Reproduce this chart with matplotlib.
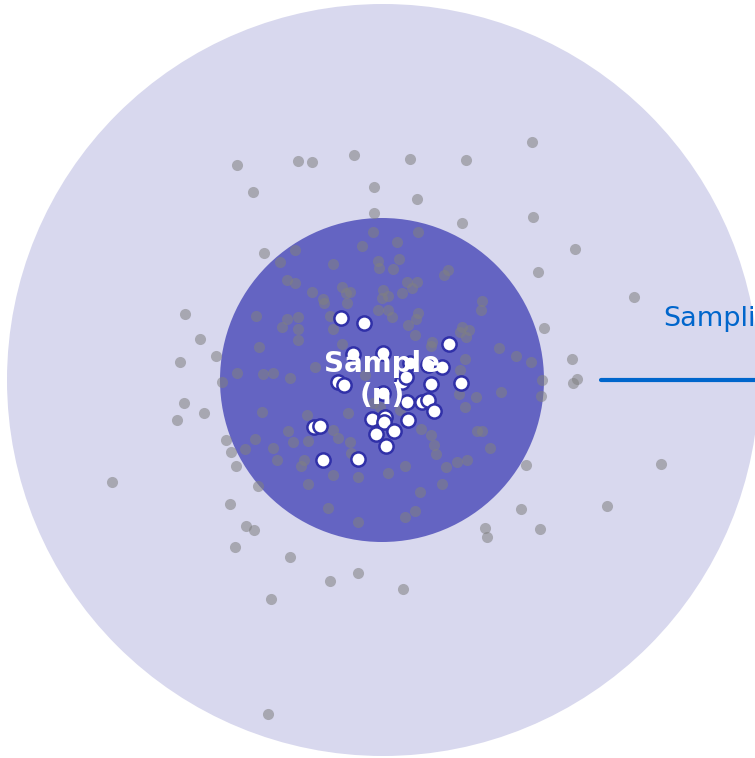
import matplotlib
matplotlib.use("Agg")
import matplotlib.pyplot as plt
from matplotlib.patches import Circle

# pixel-space coordinates (y grows downward)
population_center = (383, 380)
population_radius = 376
sample_center = (382, 380)
sample_radius = 162

gray_x = [237, 253, 298, 312, 354, 410, 466, 532, 374, 417, 374, 462, 533, 575, 538,
          634, 264, 280, 295, 287, 295, 544, 185, 200, 180, 216, 222, 184, 177, 204,
          112, 226, 231, 236, 258, 230, 246, 254, 235, 290, 271, 268, 330, 358, 403,
          485, 487, 540, 521, 607, 661, 526, 572, 577, 573, 541, 542, 531, 516, 499,
          501, 490, 373, 418, 362, 397, 333, 378, 379, 393, 399, 448, 444, 342, 350,
          346, 323, 324, 347, 312, 383, 388, 382, 402, 407, 417, 412, 482, 481, 256,
          287, 282, 298, 298, 330, 378, 388, 392, 418, 416, 408, 415, 431, 462, 469,
          466, 459, 465, 476, 259, 237, 263, 273, 290, 315, 307, 262, 288, 293, 255,
          245, 273, 277, 308, 333, 338, 350, 348, 351, 301, 304, 333, 358, 388, 405,
          421, 431, 434, 436, 446, 457, 467, 477, 482, 442, 420, 405, 415, 358, 308,
          328, 465, 460, 432, 460, 342, 298, 333, 365, 380, 400, 373]
gray_y = [165, 192, 161, 162, 155, 159, 160, 142, 187, 199, 213, 223, 217, 249, 272,
          297, 253, 262, 250, 280, 283, 328, 314, 339, 362, 356, 382, 403, 420, 413,
          482, 440, 452, 466, 486, 504, 526, 530, 547, 557, 599, 714, 581, 573, 589,
          528, 537, 529, 509, 506, 464, 465, 359, 379, 383, 396, 380, 362, 356, 348,
          392, 448, 232, 232, 246, 242, 264, 261, 268, 269, 259, 270, 275, 287, 292,
          293, 299, 303, 303, 292, 290, 296, 298, 293, 282, 282, 288, 301, 310, 316,
          319, 327, 317, 329, 316, 310, 310, 317, 313, 319, 325, 335, 346, 327, 330,
          337, 394, 407, 397, 347, 373, 374, 373, 378, 367, 415, 412, 431, 442, 439,
          449, 448, 460, 441, 430, 438, 442, 413, 453, 466, 460, 475, 477, 473, 466,
          429, 435, 445, 454, 467, 462, 460, 431, 431, 484, 492, 517, 511, 522, 484,
          508, 359, 370, 342, 332, 344, 340, 329, 375, 407, 410, 403]

sample_x = [341, 364, 449, 353, 383, 410, 428, 442, 338, 344, 402, 406, 431, 461, 383,
            407, 422, 428, 434, 372, 385, 384, 408, 394, 376, 386, 314, 320, 323, 358]
sample_y = [318, 323, 344, 354, 353, 363, 365, 367, 382, 385, 382, 377, 384, 383, 393,
            402, 402, 400, 411, 419, 417, 422, 420, 431, 434, 446, 427, 426, 460, 459]

arrow_x = [601, 800]
arrow_y = [380, 380]
label_pos = (663, 319)

fig = plt.figure(figsize=(7.55, 7.58), dpi=100)
ax = fig.add_axes([0, 0, 1, 1])
ax.set_xlim(0, 755)
ax.set_ylim(758, 0)
ax.axis('off')

ax.add_patch(Circle(population_center, population_radius, color='#d8d8ee', lw=0, zorder=1))
ax.add_patch(Circle(sample_center, sample_radius, color='#6464c2', lw=0, zorder=2))

ax.scatter(gray_x, gray_y, s=64, color='#808080', alpha=0.55, lw=0, zorder=3)

ax.scatter(sample_x, sample_y, s=105, color='white', edgecolors='#3030a8', linewidths=1.8, zorder=4)

# label sits above the sample points
ax.text(sample_center[0], sample_center[1], 'Sample\n(n)', color='white', fontsize=20,
        fontweight='bold', ha='center', va='center', linespacing=1.15, zorder=5)

ax.plot(arrow_x, arrow_y, color='#0066cc', lw=3, solid_capstyle='round', zorder=3)
ax.text(label_pos[0], label_pos[1], 'Sampling', color='#0066cc', fontsize=19.5,
        ha='left', va='center', zorder=4)

fig.savefig('out.png', dpi=100)
